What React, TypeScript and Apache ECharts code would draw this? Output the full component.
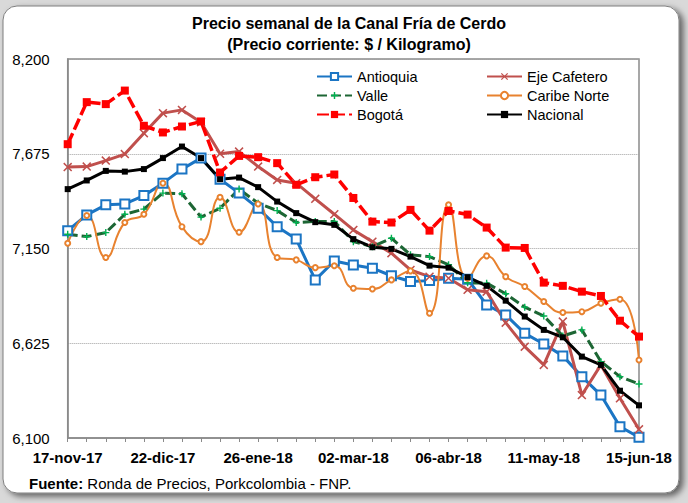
import React, { useEffect, useRef } from "react";
import * as echarts from "echarts";

const dates = [
  "17-nov-17", "24-nov-17", "01-dic-17", "08-dic-17", "15-dic-17", "22-dic-17",
  "29-dic-17", "05-ene-18", "12-ene-18", "19-ene-18", "26-ene-18", "02-feb-18",
  "09-feb-18", "16-feb-18", "23-feb-18", "02-mar-18", "09-mar-18", "16-mar-18",
  "23-mar-18", "30-mar-18", "06-abr-18", "13-abr-18", "20-abr-18", "27-abr-18",
  "04-may-18", "11-may-18", "18-may-18", "25-may-18", "01-jun-18", "08-jun-18",
  "15-jun-18",
];

const antioquia = [
  7249, 7336, 7392, 7397, 7443, 7512, 7590, 7651, 7534, 7457, 7373, 7271, 7202,
  6976, 7081, 7059, 7041, 6999, 6967, 6972, 6985, 6980, 6837, 6782, 6680, 6621,
  6555, 6440, 6338, 6163, 6104,
];
const ejeCafetero = [
  7601, 7604, 7637, 7673, 7789, 7900, 7918, 7850, 7675, 7687, 7604, 7530, 7512,
  7425, 7340, 7253, 7188, 7124, 7031, 6994, 6985, 6921, 6911, 6739, 6606, 6505,
  6745, 6338, 6505, 6320, 6148,
];
const valle = [
  7229, 7216, 7238, 7340, 7368, 7457, 7453, 7324, 7373, 7479, 7401, 7360, 7294,
  7300, 7300, 7188, 7160, 7207, 7115, 7105, 7060, 6960, 6958, 6899, 6825, 6776,
  6665, 6699, 6523, 6440, 6399,
];
const caribeNorte = [
  7179, 7333, 7100, 7294, 7340, 7512, 7271, 7188, 7434, 7240, 7397, 7100, 7087,
  7044, 7054, 6930, 6926, 6976, 7026, 6791, 7392, 6985, 7109, 6994, 6939, 6856,
  6795, 6800, 6847, 6869, 6532,
];
const bogota = [
  7728, 7961, 7950, 8025, 7830, 7793, 7826, 7854, 7571, 7663, 7656, 7623, 7503,
  7545, 7560, 7430, 7299, 7294, 7364, 7249, 7358, 7338, 7266, 7155, 7153, 6961,
  6943, 6911, 6887, 6750, 6662,
];
const nacional = [
  7479, 7527, 7580, 7576, 7590, 7651, 7715, 7651, 7534, 7543, 7490, 7410, 7346,
  7296, 7281, 7202, 7157, 7148, 7105, 7055, 7044, 6991, 6943, 6861, 6773, 6699,
  6658, 6551, 6505, 6362, 6281,
];

const yMin = 6100;
const yMax = 8200;
const yStep = 525;

const FONT = "'Liberation Sans', Arial, sans-serif";

const X_PATH =
  "path://M0,1.2L1.2,0L5,3.8L8.8,0L10,1.2L6.2,5L10,8.8L8.8,10L5,6.2L1.2,10L0,8.8L3.8,5Z";
const PLUS_PATH = "path://M4,0H6V4H10V6H6V10H4V6H0V4H4Z";

function fmt(v: number): string {
  return v.toString().replace(/\B(?=(\d{3})+(?!\d))/g, ",");
}

export default function App() {
  const ref = useRef<HTMLDivElement>(null);

  useEffect(() => {
    if (!ref.current) return;
    const chart = echarts.init(ref.current, null, { renderer: "svg" });

    const legendText = { fontSize: 14.5, color: "#000", fontFamily: FONT };
    const legendBase = {
      orient: "vertical",
      top: 64,
      itemWidth: 35,
      itemHeight: 9,
      itemGap: 4,
      selectedMode: false,
      textStyle: legendText,
    };

    chart.setOption({
      animation: false,
      backgroundColor: "#D9D9D9",
      textStyle: { fontFamily: FONT },
      graphic: [
        {
          type: "rect",
          z: -10,
          shape: { x: 3, y: 6, width: 676, height: 487, r: 14 },
          style: {
            fill: "#ffffff",
            stroke: "#7f7f7f",
            lineWidth: 1,
            shadowBlur: 6,
            shadowOffsetX: 4,
            shadowOffsetY: 3,
            shadowColor: "rgba(0,0,0,0.55)",
          },
        },
        {
          type: "text",
          x: 349,
          y: 23,
          style: {
            text: "Precio semanal de la Canal Fría de Cerdo",
            fontSize: 16,
            fontWeight: "bold",
            fontFamily: FONT,
            fill: "#000",
            align: "center",
            verticalAlign: "middle",
          },
        },
        {
          type: "text",
          x: 349,
          y: 44,
          style: {
            text: "(Precio corriente: $ / Kilogramo)",
            fontSize: 16,
            fontWeight: "bold",
            fontFamily: FONT,
            fill: "#000",
            align: "center",
            verticalAlign: "middle",
          },
        },
        {
          type: "text",
          x: 29,
          y: 483,
          style: {
            text: "{b|Fuente:} Ronda de Precios, Porkcolombia - FNP.",
            fontSize: 15,
            fontFamily: FONT,
            fill: "#000",
            verticalAlign: "middle",
            rich: {
              b: { fontWeight: "bold", fontSize: 15, fontFamily: FONT, fill: "#000" },
            },
          },
        },
      ],
      legend: [
        { ...legendBase, data: ["Antioquia", "Valle", "Bogotá"], left: 311 },
        { ...legendBase, data: ["Eje Cafetero", "Caribe Norte", "Nacional"], left: 481 },
      ],
      grid: {
        left: 67.7,
        right: 49,
        top: 59,
        bottom: 65,
        show: true,
        borderColor: "#8a8a8a",
        borderWidth: 1.5,
        containLabel: false,
      },
      xAxis: {
        type: "category",
        data: dates,
        boundaryGap: false,
        axisLine: { lineStyle: { color: "#8a8a8a", width: 1.5 } },
        axisTick: {
          interval: 0,
          length: 4,
          lineStyle: { color: "#8a8a8a", width: 1 },
        },
        axisLabel: {
          interval: 4,
          fontSize: 15,
          fontWeight: "bold",
          color: "#000",
          fontFamily: FONT,
          margin: 12,
        },
        splitLine: { show: false },
      },
      yAxis: {
        type: "value",
        min: yMin,
        max: yMax,
        interval: yStep,
        axisLine: { show: true, lineStyle: { color: "#8a8a8a", width: 1.5 } },
        axisTick: { show: false },
        axisLabel: {
          fontSize: 15,
          color: "#000",
          fontFamily: FONT,
          margin: 18,
          formatter: (v: number) => fmt(v),
        },
        splitLine: {
          show: true,
          lineStyle: { color: "#a0a0a0", type: "dotted", width: 1 },
        },
      },
      series: [
        {
          name: "Antioquia",
          type: "line",
          data: antioquia,
          symbol: "emptyRect",
          symbolSize: 9,
          lineStyle: { color: "#1B75C4", width: 3 },
          itemStyle: { color: "#1B75C4", borderWidth: 1.5 },
        },
        {
          name: "Eje Cafetero",
          type: "line",
          data: ejeCafetero,
          symbol: X_PATH,
          symbolSize: 9,
          lineStyle: { color: "#C0504D", width: 3 },
          itemStyle: { color: "#C0504D" },
        },
        {
          name: "Valle",
          type: "line",
          data: valle,
          symbol: PLUS_PATH,
          symbolSize: 7,
          lineStyle: { color: "#1D6634", width: 3, type: [10, 4] },
          itemStyle: { color: "#00B050" },
        },
        {
          name: "Caribe Norte",
          type: "line",
          data: caribeNorte,
          smooth: 0.5,
          symbol: "emptyCircle",
          symbolSize: 5,
          lineStyle: { color: "#E8822F", width: 2 },
          itemStyle: { color: "#E8822F", borderWidth: 1.3 },
        },
        {
          name: "Bogotá",
          type: "line",
          data: bogota,
          symbol: "rect",
          symbolSize: 8,
          lineStyle: { color: "#FF0000", width: 3.5, type: [12, 4] },
          itemStyle: { color: "#FF0000" },
        },
        {
          name: "Nacional",
          type: "line",
          data: nacional,
          symbol: "rect",
          symbolSize: 6,
          lineStyle: { color: "#000000", width: 3 },
          itemStyle: { color: "#000000" },
        },
      ],
    });

    return () => chart.dispose();
  }, []);

  return (
    <div
      ref={ref}
      style={{ position: "fixed", left: 0, top: 0, width: 688, height: 503 }}
    />
  );
}
